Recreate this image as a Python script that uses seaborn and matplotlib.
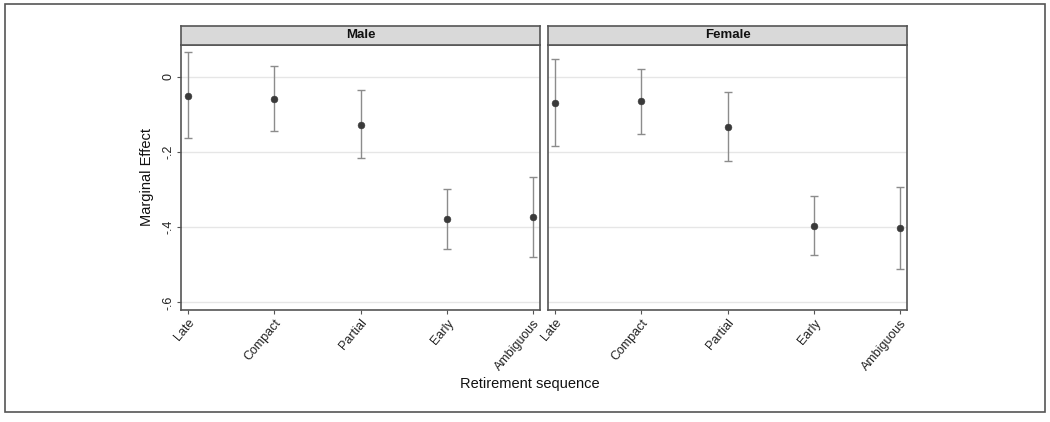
import matplotlib
matplotlib.use("Agg")
import matplotlib.pyplot as plt
import seaborn as sns
import pandas as pd
from matplotlib.patches import Rectangle

categories = ["Late", "Compact", "Partial", "Early", "Ambiguous"]
panels = ["Male", "Female"]
male_est = [-0.050, -0.058, -0.127, -0.378, -0.372]
male_lo = [-0.163, -0.145, -0.215, -0.458, -0.480]
male_hi = [0.066, 0.030, -0.036, -0.297, -0.265]
female_est = [-0.069, -0.065, -0.132, -0.396, -0.402]
female_lo = [-0.185, -0.153, -0.223, -0.475, -0.511]
female_hi = [0.047, 0.022, -0.039, -0.318, -0.292]
yticks = [0, -0.2, -0.4, -0.6]
yticklabels = ["0", "-.2", "-.4", "-.6"]

frames = []
for name, est, lo, hi in [("Male", male_est, male_lo, male_hi),
                          ("Female", female_est, female_lo, female_hi)]:
    frames.append(pd.DataFrame({"panel": name, "seq": categories,
                                "est": est, "lo": lo, "hi": hi}))
df = pd.concat(frames, ignore_index=True)

sns.set_style("white")
plt.rcParams["font.family"] = ["Liberation Sans", "DejaVu Sans"]

W, H = 1050, 422
fig = plt.figure(figsize=(W / 100, H / 100), dpi=100)
fig.patches.append(Rectangle((5 / W, 1 - 412 / H), 1040 / W, 408 / H,
                             transform=fig.transFigure, fill=False,
                             edgecolor="#555555", linewidth=1.2))

lefts = [181, 548]
pw = 359
top, bottom = 45, 310
strip_top = 26
for i, (pname, left) in enumerate(zip(panels, lefts)):
    ax = fig.add_axes([left / W, 1 - bottom / H, pw / W, (bottom - top) / H])
    sub = df[df.panel == pname]
    xs = list(range(len(categories)))
    est = sub.est.values
    ax.errorbar(xs, est, yerr=[est - sub.lo.values, sub.hi.values - est],
                fmt="none", ecolor="#8c8c8c", elinewidth=1.0, capsize=3,
                capthick=1.0, zorder=2)
    sns.scatterplot(x=xs, y=est, ax=ax, color="#3a3a3a", s=24,
                    edgecolor="#3a3a3a", zorder=3, legend=False)
    ax.set_xlim(-0.08, 4.08)
    ax.set_ylim(-0.62, 0.085)
    ax.set_yticks(yticks)
    for yv in yticks:
        ax.axhline(yv, color="#e6e6e6", linewidth=1.0, zorder=0)
    ax.set_xticks(xs)
    ax.set_xticklabels(categories, rotation=50, ha="right",
                       rotation_mode="anchor", fontsize=9, color="#222222")
    ax.tick_params(axis="x", length=3, width=0.8, color="#555555",
                   direction="out", bottom=True, pad=2)
    if i == 0:
        ax.set_yticklabels(yticklabels, rotation=90, fontsize=9,
                           va="center", color="#222222")
        ax.tick_params(axis="y", length=3, width=0.8, color="#555555",
                       direction="out", left=True, pad=2)
        ax.set_ylabel("Marginal Effect", fontsize=10.5, labelpad=6,
                      color="#111111")
    else:
        ax.set_yticklabels([])
        ax.tick_params(axis="y", left=False)
        ax.set_ylabel("")
    ax.set_xlabel("")
    for sp in ax.spines.values():
        sp.set_color("#555555")
        sp.set_linewidth(1.2)
    sax = fig.add_axes([left / W, 1 - top / H, pw / W, (top - strip_top) / H])
    sax.set_facecolor("#d9d9d9")
    sax.set_xticks([])
    sax.set_yticks([])
    for sp in sax.spines.values():
        sp.set_color("#555555")
        sp.set_linewidth(1.2)
    sax.text(0.5, 0.5, pname, ha="center", va="center", fontsize=9.5,
             color="#111111", fontweight="bold", transform=sax.transAxes)

fig.text(530 / W, 1 - 384 / H, "Retirement sequence", ha="center",
         va="center", fontsize=10.5, color="#111111")

fig.savefig("out.png", dpi=100)
